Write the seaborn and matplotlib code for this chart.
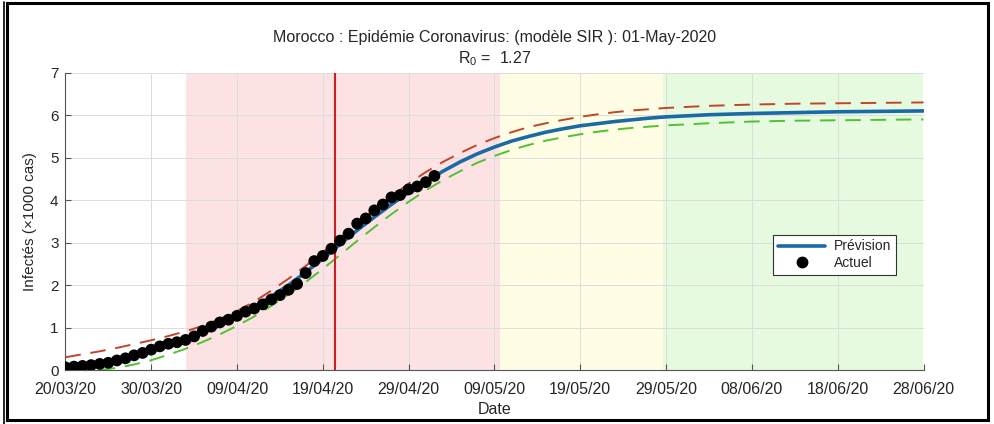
import matplotlib
matplotlib.use("Agg")
import numpy as np
import pandas as pd
import seaborn as sns
import matplotlib.pyplot as plt
import matplotlib.dates as mdates
from matplotlib.patches import Rectangle
from matplotlib.lines import Line2D

# ---------------- data ----------------
start_date = "2020-03-20"
end_date = "2020-06-28"

# observed infected (x1000), one point per day starting 20/03/20
actual_values = [0.063, 0.079, 0.096, 0.115, 0.143, 0.170, 0.225, 0.275, 0.345, 0.402,
                 0.479, 0.556, 0.617, 0.654, 0.708, 0.791, 0.919, 1.021, 1.120, 1.184,
                 1.275, 1.374, 1.448, 1.545, 1.661, 1.763, 1.888, 2.024, 2.283, 2.564,
                 2.685, 2.855, 3.046, 3.209, 3.446, 3.568, 3.758, 3.897, 4.065, 4.120,
                 4.252, 4.321, 4.423, 4.569]

# model curves, read at these day offsets from 20/03/20
model_days = [0, 2, 4, 6, 8, 10, 12, 14, 16, 18, 20, 22, 24, 26, 28, 30, 32, 34, 36, 38,
              40, 42, 44, 46, 48, 50, 52, 54, 56, 58, 60, 62, 64, 66, 68, 70,
              75, 80, 85, 90, 95, 100]
forecast = [0.05, 0.10, 0.16, 0.24, 0.33, 0.44, 0.57, 0.71, 0.87, 1.05, 1.25, 1.48, 1.73,
            2.00, 2.30, 2.62, 2.96, 3.29, 3.60, 3.90, 4.18, 4.44, 4.68, 4.90, 5.09, 5.25,
            5.39, 5.50, 5.60, 5.68, 5.75, 5.80, 5.85, 5.89, 5.93, 5.96,
            6.01, 6.04, 6.06, 6.08, 6.09, 6.10]
upper = [0.30, 0.37, 0.44, 0.52, 0.61, 0.70, 0.80, 0.91, 1.04, 1.20, 1.39, 1.61, 1.87,
         2.15, 2.45, 2.77, 3.11, 3.45, 3.78, 4.09, 4.39, 4.66, 4.90, 5.11, 5.30, 5.46,
         5.60, 5.72, 5.81, 5.89, 5.96, 6.02, 6.07, 6.11, 6.14, 6.17,
         6.22, 6.25, 6.27, 6.28, 6.29, 6.30]
lower_days = [4, 6, 8, 10, 12, 14, 16, 18, 20, 22, 24, 26, 28, 30, 32, 34, 36, 38,
              40, 42, 44, 46, 48, 50, 52, 54, 56, 58, 60, 62, 64, 66, 68, 70,
              75, 80, 85, 90, 95, 100]
lower = [0.00, 0.05, 0.13, 0.23, 0.36, 0.50, 0.66, 0.84, 1.04, 1.26, 1.51, 1.78, 2.07,
         2.38, 2.71, 3.04, 3.36, 3.67, 3.96, 4.23, 4.47, 4.68, 4.88, 5.04, 5.18, 5.30,
         5.40, 5.48, 5.55, 5.61, 5.66, 5.70, 5.73, 5.76,
         5.81, 5.85, 5.87, 5.88, 5.89, 5.90]

# phases (day offsets from 20/03/20)
phase_red = (14.0, 50.7)
phase_yellow = (50.7, 69.7)
phase_green = (69.7, 100.0)
marker_day = 31.4

title_line1 = "Morocco : Epidémie Coronavirus: (modèle SIR ): 01-May-2020"
r0_value = 1.27

# ---------------- build frames ----------------
t0 = pd.Timestamp(start_date)
def to_dates(days):
    return t0 + pd.to_timedelta(np.asarray(days, dtype=float), unit="D")

df_act = pd.DataFrame({"date": to_dates(np.arange(len(actual_values))), "val": actual_values})
df_fc = pd.DataFrame({"date": to_dates(model_days), "val": forecast})
df_up = pd.DataFrame({"date": to_dates(model_days), "val": upper})
df_lo = pd.DataFrame({"date": to_dates(lower_days), "val": lower})

# ---------------- style ----------------
sns.set_theme(style="whitegrid")
plt.rcParams["font.family"] = ["Liberation Sans", "DejaVu Sans"]
plt.rcParams["mathtext.fontset"] = "custom"
plt.rcParams["mathtext.rm"] = "Liberation Sans"
plt.rcParams["mathtext.default"] = "regular"

TXT = "#262626"
fig = plt.figure(figsize=(9.94, 4.24), dpi=100)
ax = fig.add_axes([65.4 / 994, 54 / 424, 858.1 / 994, 297.3 / 424])

def d2n(day):
    return mdates.date2num(t0 + pd.Timedelta(days=day))

ax.axvspan(d2n(phase_red[0]), d2n(phase_red[1]), color="#FCE2E2", lw=0, zorder=0)
ax.axvspan(d2n(phase_yellow[0]), d2n(phase_yellow[1]), color="#FFFDE4", lw=0, zorder=0)
ax.axvspan(d2n(phase_green[0]), d2n(phase_green[1]), color="#E5FADF", lw=0, zorder=0)

sns.lineplot(data=df_up, x="date", y="val", ax=ax, color="#C0452C", lw=1.4, zorder=3)
ax.lines[-1].set_dashes((8, 5))
sns.lineplot(data=df_lo, x="date", y="val", ax=ax, color="#52C034", lw=1.4, zorder=3)
ax.lines[-1].set_dashes((8, 5))
sns.lineplot(data=df_fc, x="date", y="val", ax=ax, color="#1A6AA6", lw=2.6, zorder=4)
ax.axvline(d2n(marker_day), color="#C8202A", lw=1.5, zorder=4.5)
sns.scatterplot(data=df_act, x="date", y="val", ax=ax, color="black", s=72,
                edgecolor="none", zorder=5)

# ---------------- axes ----------------
ax.set_xlim(d2n(0), mdates.date2num(pd.Timestamp(end_date)))
ax.set_ylim(0, 7)
ax.set_yticks(range(0, 8))
ax.set_xticks([d2n(d) for d in range(0, 101, 10)])
ax.xaxis.set_major_formatter(mdates.DateFormatter("%d/%m/%y"))
ax.grid(True, color="#DCDCDC", lw=0.7)
ax.set_axisbelow(True)
ax.set_facecolor("white")
for s in ["top", "right"]:
    ax.spines[s].set_visible(False)
for s in ["left", "bottom"]:
    ax.spines[s].set_visible(True)
    ax.spines[s].set_color("#555555")
    ax.spines[s].set_linewidth(0.8)
ax.tick_params(axis="both", direction="in", length=4, width=0.8, color="#555555",
               labelcolor=TXT, bottom=True, left=True)
ax.tick_params(axis="x", labelsize=11.5, pad=9)
ax.tick_params(axis="y", labelsize=11, pad=5)

ax.set_xlabel("Date", fontsize=11.5, color=TXT, labelpad=3)
ax.set_ylabel("Infectés (×1000 cas)", fontsize=11, color=TXT, labelpad=9)
ax.set_title(title_line1 + "\n" + "R$_0$ =  " + f"{r0_value:.2f}", fontsize=11.5,
             color=TXT, pad=7, linespacing=1.25)

handles = [Line2D([0], [0], color="#1A6AA6", lw=2.6),
           Line2D([0], [0], color="black", marker="o", ls="none", markersize=7.5)]
leg = ax.legend(handles, ["Prévision", "Actuel"], loc="upper left",
                bbox_to_anchor=(0.817, 0.479), fontsize=10, handlelength=3.4,
                frameon=True, fancybox=False, framealpha=1, edgecolor="#333333",
                borderpad=0.35, labelspacing=0.2, handletextpad=0.6)
leg.get_frame().set_linewidth(0.8)
for t in leg.get_texts():
    t.set_color(TXT)

# ---------------- figure frame ----------------
W, H = 994, 424
fig.add_artist(Rectangle((7.3 / W, (H - 419.5) / H), (988 - 7.3) / W, (419.5 - 3) / H,
                         transform=fig.transFigure, fill=False, ec="black", lw=2.2))
fig.add_artist(Line2D([3.5 / W, 3.5 / W], [0, (H - 2) / H], transform=fig.transFigure,
                      color="black", lw=1.2))

fig.savefig("out.png", dpi=100, facecolor="white")
